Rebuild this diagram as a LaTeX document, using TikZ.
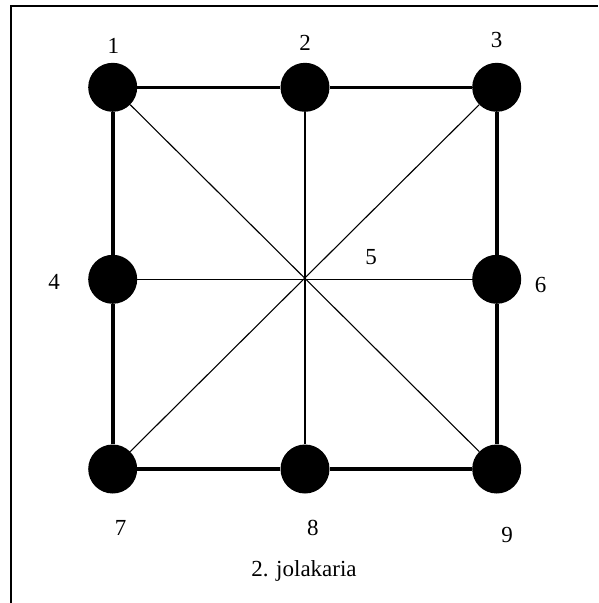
\documentclass[tikz,border=0pt]{standalone}
\usepackage{fontspec}
\setmainfont{Liberation Serif}
\begin{document}
\begin{tikzpicture}[x=1pt,y=-1pt,
  dot/.style={circle,fill=black,draw=none,minimum size=49pt,inner sep=0pt},
  lab/.style={font=\fontsize{23}{28}\selectfont,inner sep=0pt},
  thickline/.style={line width=3.6pt},
  thinline/.style={line width=1.1pt}]
\useasboundingbox (0,0) rectangle (598,603);
\draw[line width=2.6pt] (11,603) -- (11,6) -- (598,6);
\node[dot] (n1) at (112.7,87.3) {};
\node[dot] (n2) at (305,87.3) {};
\node[dot] (n3) at (496.7,87.3) {};
\node[dot] (n4) at (112.7,279.3) {};
\node[dot] (n6) at (496.7,279.3) {};
\node[dot] (n7) at (112.7,469) {};
\node[dot] (n8) at (305,469) {};
\node[dot] (n9) at (496.7,469) {};
\begin{scope}[on background layer/.try]
\end{scope}
\draw[thinline] (n1) -- (n9);
\draw[thinline] (n3) -- (n7);
\draw[thinline] (n2) -- (n8);
\draw[thinline] (n4) -- (n6);
\draw[thickline] (n1) -- (n2);
\draw[thickline] (n2) -- (n3);
\draw[thickline] (n3) -- (n6);
\draw[thickline] (n6) -- (n9);
\draw[thickline] (n9) -- (n8);
\draw[thickline] (n8) -- (n7);
\draw[thickline] (n7) -- (n4);
\draw[thickline] (n4) -- (n1);
\node[lab] (l1) at (113.3,46.2) {1};
\node[lab] (l2) at (305,43.3) {2};
\node[lab] (l3) at (496.7,40) {3};
\node[lab] (l4) at (54,281.7) {4};
\node[lab] (l5) at (371,257.3) {5};
\node[lab] (l6) at (540.5,284.7) {6};
\node[lab] (l7) at (120.5,527.7) {7};
\node[lab] (l8) at (312.8,528.3) {8};
\node[lab] (l9) at (507,534.7) {9};
\node[lab,anchor=base] (cap) at (304,576.7) {2. jolakaria};
\end{tikzpicture}
\end{document}
